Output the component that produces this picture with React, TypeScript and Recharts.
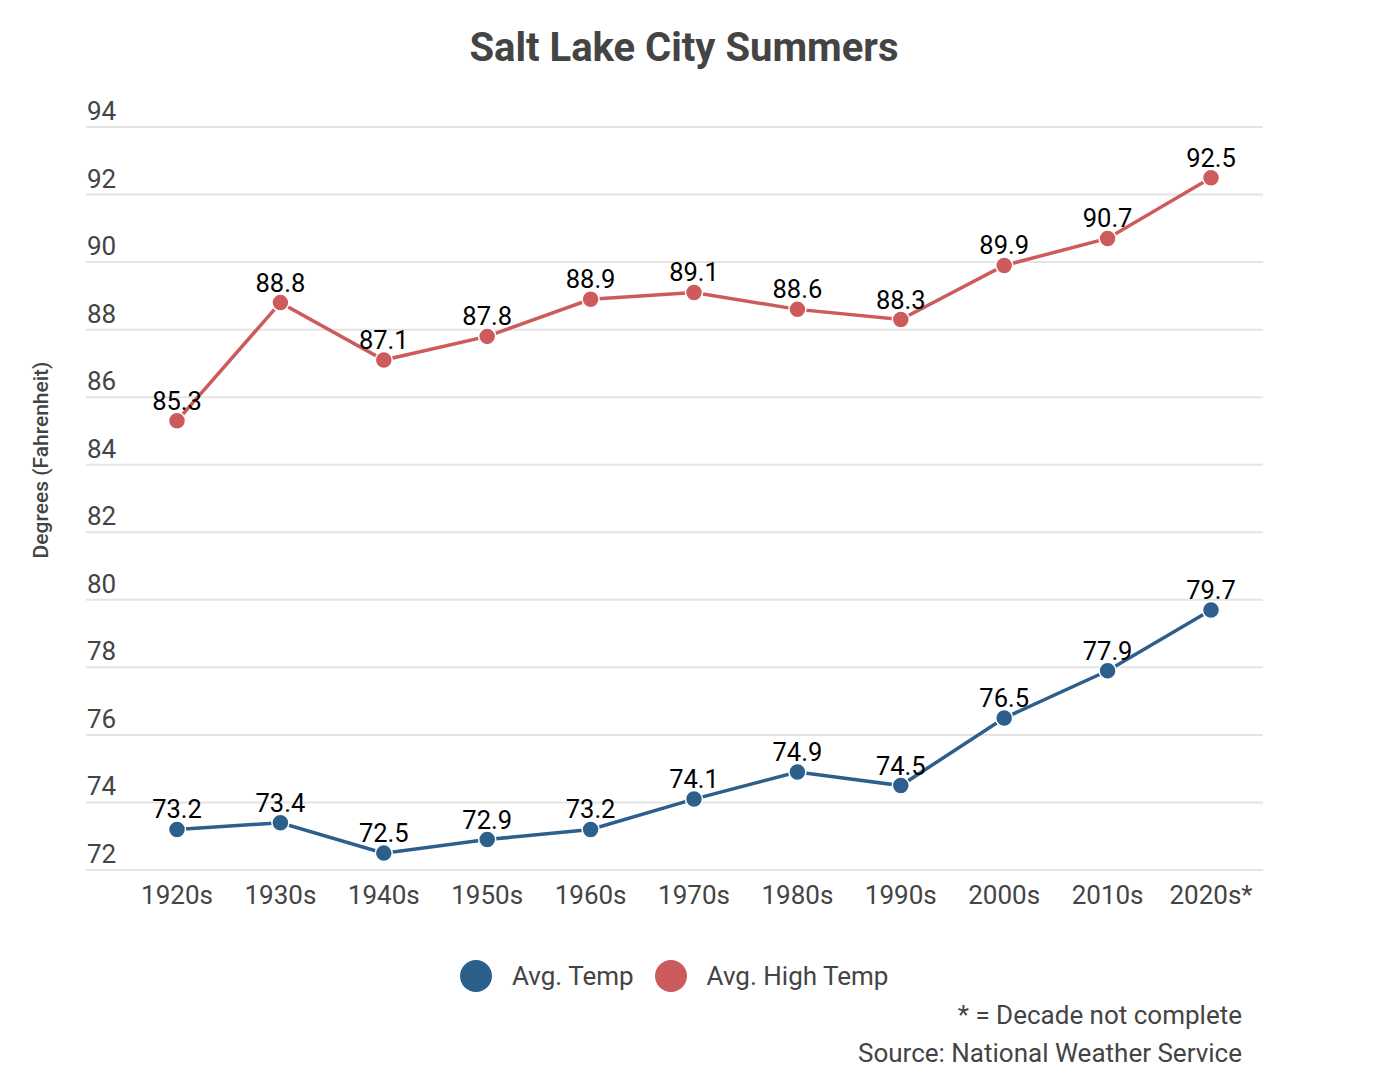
import React from "react";
import { LineChart, Line, XAxis, YAxis, CartesianGrid, LabelList } from "recharts";

const decades = ["1920s", "1930s", "1940s", "1950s", "1960s", "1970s", "1980s", "1990s", "2000s", "2010s", "2020s*"];
const avgTemp = [73.2, 73.4, 72.5, 72.9, 73.2, 74.1, 74.9, 74.5, 76.5, 77.9, 79.7];
const avgHighTemp = [85.3, 88.8, 87.1, 87.8, 88.9, 89.1, 88.6, 88.3, 89.9, 90.7, 92.5];
const yTicks = [72, 74, 76, 78, 80, 82, 84, 86, 88, 90, 92, 94];

const series = [
  { key: "avg", name: "Avg. Temp", color: "#2c5f8c" },
  { key: "high", name: "Avg. High Temp", color: "#cd5b5b" },
];

const data = decades.map((decade, i) => ({ decade, avg: avgTemp[i], high: avgHighTemp[i] }));

const FONT = "Roboto, 'Open Sans', sans-serif";
const TEXT = "#444";

// plot box inside the svg
const PLOT_LEFT = 86;
const PLOT_RIGHT = 1263;
const PLOT_TOP = 127;
const PLOT_BOTTOM = 870;
const WIDTH = 1378;
const XAXIS_H = 50;

const YTick = ({ y, payload }: any) => (
  <text x={PLOT_LEFT + 1} y={y - 7} fill={TEXT} fontSize={26} fontFamily={FONT}>
    {payload.value}
  </text>
);

const XTick = ({ x, payload }: any) => (
  <text x={x} y={PLOT_BOTTOM + 34} fill={TEXT} fontSize={26} fontFamily={FONT} textAnchor="middle">
    {payload.value}
  </text>
);

export default function App() {
  return (
    <div style={{ position: "absolute", left: 0, top: 0, width: WIDTH, height: 1084, background: "#fff", fontFamily: FONT }}>
      <div
        style={{
          position: "absolute",
          top: 24,
          left: 0,
          width: WIDTH - 10,
          textAlign: "center",
          fontSize: 40,
          fontWeight: 700,
          color: TEXT,
          lineHeight: "48px",
        }}
      >
        Salt Lake City Summers
      </div>

      <div
        style={{
          position: "absolute",
          left: 41,
          top: 460,
          transform: "translate(-50%, -50%) rotate(-90deg)",
          whiteSpace: "nowrap",
          fontSize: 21,
          fontWeight: 500,
          color: TEXT,
        }}
      >
        Degrees (Fahrenheit)
      </div>

      <LineChart
        width={WIDTH}
        height={PLOT_BOTTOM + XAXIS_H}
        data={data}
        margin={{ top: PLOT_TOP, left: 0, right: WIDTH - PLOT_RIGHT, bottom: 0 }}
        style={{ position: "absolute", left: 0, top: 0 }}
      >
        <CartesianGrid vertical={false} stroke="#e4e4e4" strokeWidth={2} />
        <XAxis
          dataKey="decade"
          height={XAXIS_H}
          padding={{ left: 91, right: 52 }}
          axisLine={false}
          tickLine={false}
          interval={0}
          tick={<XTick />}
        />
        <YAxis
          width={PLOT_LEFT}
          domain={[72, 94]}
          ticks={yTicks}
          interval={0}
          axisLine={false}
          tickLine={false}
          tick={<YTick />}
        />
        {series.map((s) => (
          <Line
            key={s.key}
            dataKey={s.key}
            name={s.name}
            type="linear"
            stroke={s.color}
            strokeWidth={3.5}
            dot={{ r: 8.5, fill: s.color, stroke: "#fff", strokeWidth: 1.5 }}
            activeDot={false}
            isAnimationActive={false}
          >
            <LabelList
              dataKey={s.key}
              position="top"
              offset={11}
              fill="#000"
              fontSize={25.5}
              fontFamily={FONT}
            />
          </Line>
        ))}
      </LineChart>

      <div
        style={{
          position: "absolute",
          top: 960,
          left: 460,
          display: "flex",
          alignItems: "center",
          gap: 21,
          fontSize: 26,
          color: TEXT,
        }}
      >
        {series.map((s) => (
          <div key={s.key} style={{ display: "flex", alignItems: "center", gap: 20 }}>
            <span style={{ width: 32, height: 32, borderRadius: "50%", background: s.color, display: "inline-block" }} />
            <span>{s.name}</span>
          </div>
        ))}
      </div>

      <div
        style={{
          position: "absolute",
          right: WIDTH - 1242,
          top: 996,
          textAlign: "right",
          fontSize: 26,
          color: TEXT,
          lineHeight: "38px",
        }}
      >
        <div>* = Decade not complete</div>
        <div>Source: National Weather Service</div>
      </div>
    </div>
  );
}
